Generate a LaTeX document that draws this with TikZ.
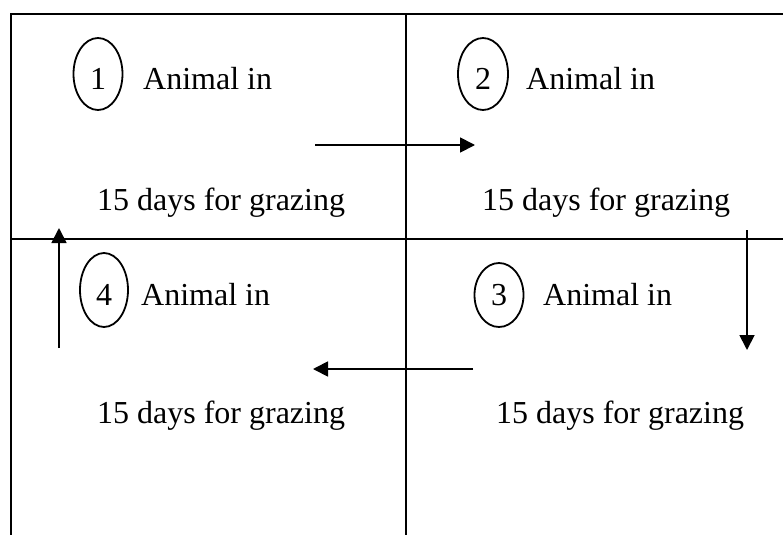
\documentclass[tikz,border=0pt]{standalone}
\usepackage{fontspec}
\setmainfont{Liberation Serif}
\usetikzlibrary{arrows.meta, shapes.geometric}

\begin{document}
\begin{tikzpicture}[x=1pt, y=-1pt, line width=2.3pt,
  font=\fontsize{32}{38}\selectfont,
  txt/.style={anchor=base west, inner sep=0pt}, % 文字列
  ring/.style={draw, ellipse, line width=1.8pt, inner sep=0pt}, % 番号の楕円
  num/.style={anchor=base, inner sep=0pt}, % 番号
  flow/.style={line width=1.8pt, -{Triangle[length=15pt, width=15pt]}}] % 移動の矢印
  \useasboundingbox (0,0) rectangle (783,535); % 全体の大きさ

  \draw (783,14) -- (11,14) -- (11,535); % 外枠（上と左）
  \draw (406,14) -- (406,535); % 縦の仕切り
  \draw (11,239) -- (783,239); % 横の仕切り

  % 区画1
  \node[ring, minimum width=49pt, minimum height=72pt] (r1) at (98,74) {};
  \node[num] (n1) at (98,89) {1};
  \node[txt] (a1) at (142,89) {Animal in};
  \node[txt] (g1) at (96,210) {15 days for grazing};
  % 区画2
  \node[ring, minimum width=50pt, minimum height=72pt] (r2) at (483,74) {};
  \node[num] (n2) at (483,89) {2};
  \node[txt] (a2) at (525,89) {Animal in};
  \node[txt] (g2) at (481,210) {15 days for grazing};
  % 区画3
  \node[ring, minimum width=49pt, minimum height=64pt] (r3) at (499,295) {};
  \node[num] (n3) at (499,305) {3};
  \node[txt] (a3) at (542,305) {Animal in};
  \node[txt] (g3) at (495,423) {15 days for grazing};
  % 区画4
  \node[ring, minimum width=48pt, minimum height=74pt] (r4) at (104,290) {};
  \node[num] (n4) at (104,305) {4};
  \node[txt] (a4) at (140,305) {Animal in};
  \node[txt] (g4) at (96,423) {15 days for grazing};

  % 矢印の端点
  \coordinate (p12) at (315,145);
  \coordinate (q12) at (475,145);
  \coordinate (p23) at (747,230);
  \coordinate (q23) at (747,350);
  \coordinate (p34) at (473,369);
  \coordinate (q34) at (313,369);
  \coordinate (p41) at (59,348);
  \coordinate (q41) at (59,228);

  \draw[flow] (p12) -- (q12); % 1→2
  \draw[flow] (p23) -- (q23); % 2→3
  \draw[flow] (p34) -- (q34); % 3→4
  \draw[flow] (p41) -- (q41); % 4→1
\end{tikzpicture}
\end{document}
